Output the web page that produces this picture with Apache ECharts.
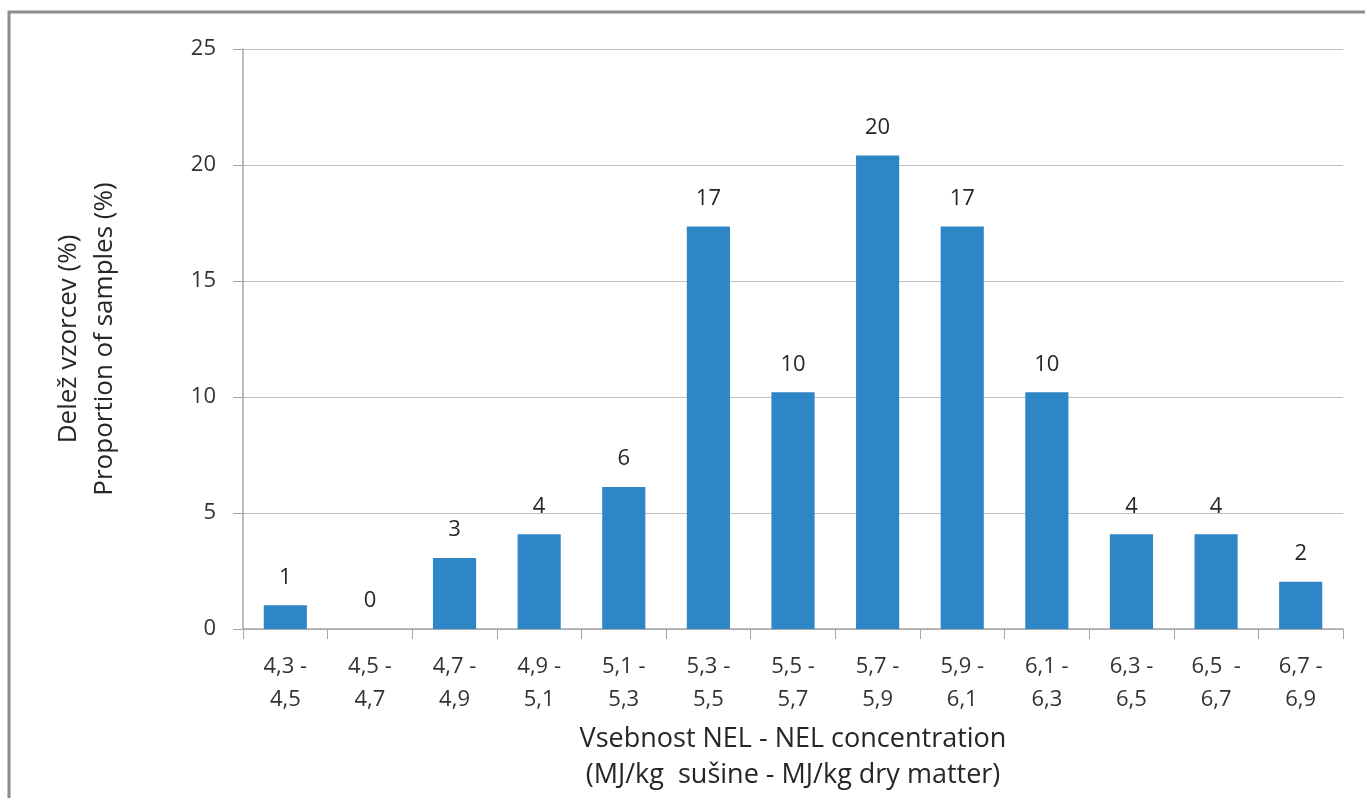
<!DOCTYPE html>
<html><head><meta charset="utf-8">
<script src="https://cdn.jsdelivr.net/npm/echarts@6/dist/echarts.min.js"></script>
<style>html,body{margin:0;padding:0;background:#fff}#c{width:1365px;height:798px}</style>
</head><body><div id="c"></div>
<script>
var categories = ['4,3 -\n4,5','4,5 -\n4,7','4,7 -\n4,9','4,9 -\n5,1','5,1 -\n5,3','5,3 -\n5,5','5,5 -\n5,7','5,7 -\n5,9','5,9 -\n6,1','6,1 -\n6,3','6,3 -\n6,5','6,5  -\n6,7','6,7 -\n6,9'];
var shares = [1.02, 0, 3.06, 4.08, 6.12, 17.35, 10.2, 20.41, 17.35, 10.2, 4.08, 4.08, 2.04];
var yTicks = [0, 5, 10, 15, 20, 25];
var yName = 'Delež vzorcev (%)\nProportion of samples (%)';
var xName = 'Vsebnost NEL - NEL concentration\n(MJ/kg  sušine - MJ/kg dry matter)';

var chart = echarts.init(document.getElementById('c'));
var font = '"Open Sans", "DejaVu Sans", sans-serif';
chart.setOption({
  animation: false,
  textStyle: {fontFamily: font},
  graphic: [{type:'rect', shape:{x:9, y:12, width:1400, height:820}, style:{fill:'none', stroke:'#8c8c8c', lineWidth:3}, z:-1}],
  grid: {left: 243, right: 22, top: 49, bottom: 169, containLabel: false},
  xAxis: {
    type: 'category', data: categories,
    axisLine: {lineStyle: {color: '#a6a6a6', width: 1.5}},
    axisTick: {show: true, length: 10, lineStyle: {color: '#a6a6a6'}},
    axisLabel: {color: '#333333', fontSize: 22, lineHeight: 33, margin: 21, fontFamily: font},
    name: xName, nameLocation: 'middle', nameGap: 86,
    nameTextStyle: {color: '#262626', fontSize: 27, lineHeight: 36, fontFamily: font}
  },
  yAxis: {
    type: 'value', min: yTicks[0], max: yTicks[yTicks.length-1], interval: 5,
    axisLine: {show: true, lineStyle: {color: '#a6a6a6', width: 1.5}},
    axisTick: {show: true, length: 10, lineStyle: {color: '#a6a6a6'}},
    splitLine: {lineStyle: {color: '#bfbfbf', width: 1}},
    axisLabel: {color: '#333333', fontSize: 22, margin: 27, fontFamily: font},
    name: yName, nameLocation: 'middle', nameGap: 120, nameRotate: 90,
    nameTextStyle: {color: '#262626', fontSize: 26, lineHeight: 36, fontFamily: font}
  },
  series: [{
    type: 'bar', data: shares, barWidth: '51%',
    itemStyle: {color: '#2F86C6'},
    label: {show: true, position: 'top', distance: 17, color: '#262626', fontSize: 22, fontFamily: font,
      formatter: function(p){ return Math.round(p.value); }}
  }]
});
</script></body></html>
